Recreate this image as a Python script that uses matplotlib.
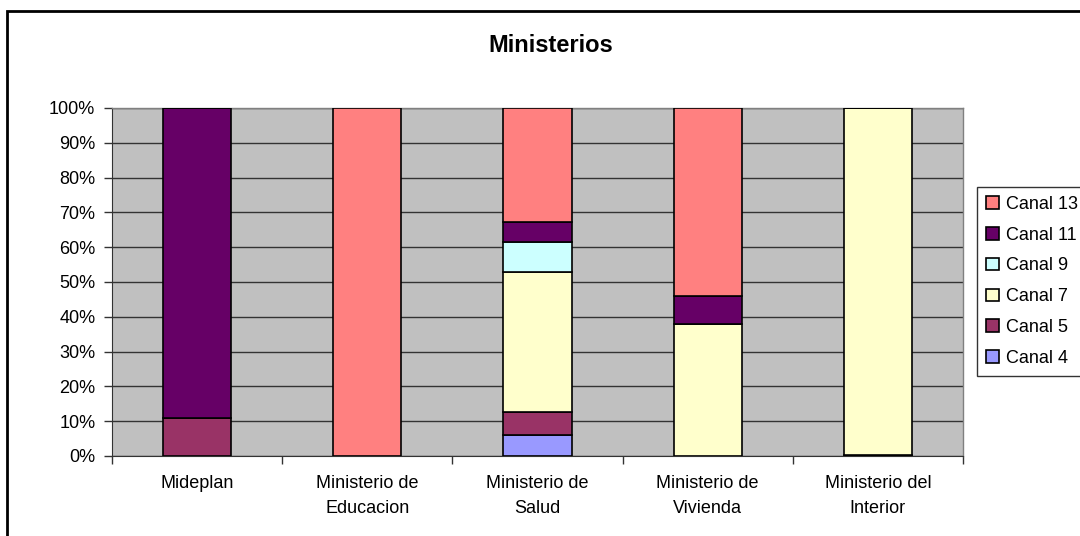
import matplotlib.pyplot as plt
import matplotlib.patches as mpatches
import numpy as np

plt.rcParams['font.family'] = ['Liberation Sans', 'DejaVu Sans']

ministerios = ["Mideplan", "Ministerio de\nEducacion", "Ministerio de\nSalud",
               "Ministerio de\nVivienda", "Ministerio del\nInterior"]
canales = ["Canal 4", "Canal 5", "Canal 7", "Canal 9", "Canal 11", "Canal 13"]
colores = ["#9999FF", "#993366", "#FFFFCC", "#CCFFFF", "#660066", "#FF8080"]

# percentages per canal, one value per ministerio
canal_4 = [0.0, 0.0, 6.0, 0.0, 0.0]
canal_5 = [10.9, 0.0, 6.7, 0.0, 0.4]
canal_7 = [0.0, 0.0, 40.2, 38.0, 99.6]
canal_9 = [0.0, 0.0, 8.6, 0.0, 0.0]
canal_11 = [89.1, 0.0, 5.7, 7.9, 0.0]
canal_13 = [0.0, 100.0, 32.8, 54.1, 0.0]
series = [canal_4, canal_5, canal_7, canal_9, canal_11, canal_13]

fig = plt.figure(figsize=(10.8, 5.36), dpi=100)
ax = fig.add_axes([112/1080, 1-456/536, 851/1080, 348/536])
ax.set_facecolor("#C0C0C0")

x = np.arange(len(ministerios))
bottom = np.zeros(len(ministerios))
for vals, col, lab in zip(series, colores, canales):
    v = np.array(vals)
    ax.bar(x, v, 0.4, bottom=bottom, color=col, edgecolor="black",
           linewidth=1.2, label=lab, zorder=3)
    bottom += v

ax.set_xlim(-0.5, len(ministerios)-0.5)
ax.set_ylim(0, 100)
ax.set_yticks(np.arange(0, 101, 10))
ax.set_yticklabels([f"{v}%" for v in range(0, 101, 10)], fontsize=13)
ax.yaxis.grid(True, color="#333333", linewidth=1.0, zorder=0)
ax.set_axisbelow(True)

ax.set_xticks(x)
ax.set_xticklabels(ministerios, fontsize=13, linespacing=1.55)
ax.set_xticks(np.arange(-0.5, len(ministerios)), minor=True)
ax.tick_params(axis="x", which="major", length=0, pad=14)
ax.tick_params(axis="x", which="minor", length=6, width=1, color="#333333")
ax.tick_params(axis="y", length=6, width=1, color="#333333", pad=6)

for s in ["top", "right"]:
    ax.spines[s].set_color("#808080")
    ax.spines[s].set_linewidth(1)
ax.spines["left"].set_color("#333333")
ax.spines["bottom"].set_color("#333333")

fig.text(551/1080, 1-46/536, "Ministerios", ha="center", va="center",
         fontsize=17, fontweight="bold")

handles, labels = ax.get_legend_handles_labels()
leg = fig.legend(handles[::-1], labels[::-1], loc="upper left",
                 bbox_to_anchor=(977/1080, 1-187/536), fontsize=13,
                 frameon=True, fancybox=False, edgecolor="black",
                 handlelength=0.7, handleheight=0.7, handletextpad=0.4,
                 labelspacing=0.76, borderpad=0.5, borderaxespad=0)
leg.get_frame().set_linewidth(1)

# outer chart border
fig.patches.append(mpatches.Rectangle((7/1080, -0.05), 1.1, 1-11/536+0.05,
                                      transform=fig.transFigure, fill=False,
                                      edgecolor="black", linewidth=2))

fig.savefig("out.png", dpi=100)
